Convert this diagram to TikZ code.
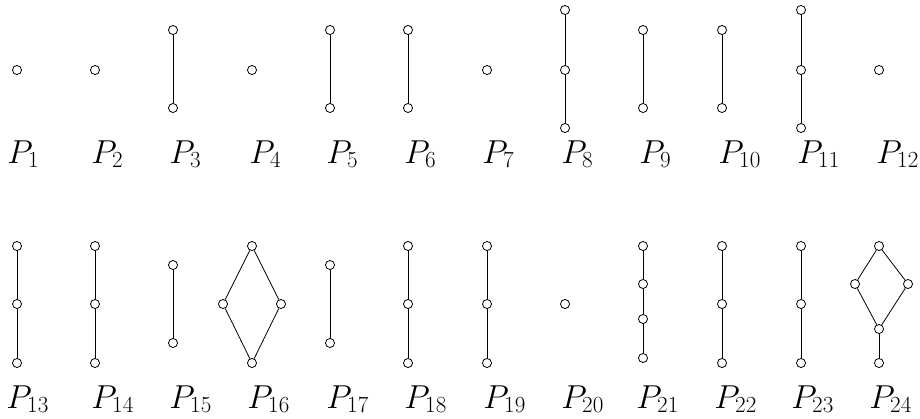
\documentclass[tikz,border=0pt]{standalone}
\usepackage{tikz}
\usetikzlibrary{positioning}

\begin{document}
\begin{tikzpicture}[
    x=0.75pt, y=-0.75pt,
    elt/.style={circle, draw=black, fill=white, inner sep=0pt,
                minimum size=6.8pt, line width=0.6pt},
    edge/.style={line width=0.6pt},
    lbl/.style={anchor=base west, inner sep=0pt, font=\fontsize{23}{27}\selectfont}
]
    \useasboundingbox (0,0) rectangle (920,418);

    % first row
    \node[elt] (a1) at (17,70) {};
    \node[elt] (a2) at (95,70) {};
    \node[elt] (a3t) at (173,30) {};
    \node[elt] (a3b) at (173,108) {};
    \node[elt] (a4) at (252,70) {};
    \node[elt] (a5t) at (330,30) {};
    \node[elt] (a5b) at (330,108) {};
    \node[elt] (a6t) at (408,30) {};
    \node[elt] (a6b) at (408,108) {};
    \node[elt] (a7) at (487,70) {};
    \node[elt] (a8t) at (565,10) {};
    \node[elt] (a8m) at (565,70) {};
    \node[elt] (a8b) at (565,128) {};
    \node[elt] (a9t) at (643,30) {};
    \node[elt] (a9b) at (643,108) {};
    \node[elt] (a10t) at (722,30) {};
    \node[elt] (a10b) at (722,108) {};
    \node[elt] (a11t) at (801,10) {};
    \node[elt] (a11m) at (801,70) {};
    \node[elt] (a11b) at (801,128) {};
    \node[elt] (a12) at (879,70) {};

    \draw[edge] (a3t) -- (a3b);
    \draw[edge] (a5t) -- (a5b);
    \draw[edge] (a6t) -- (a6b);
    \draw[edge] (a8t) -- (a8m) -- (a8b);
    \draw[edge] (a9t) -- (a9b);
    \draw[edge] (a10t) -- (a10b);
    \draw[edge] (a11t) -- (a11m) -- (a11b);

    \node[lbl] (l1) at (7,163) {$P_1$};
    \node[lbl] (l2) at (91,163) {$P_2$};
    \node[lbl] (l3) at (169,163) {$P_3$};
    \node[lbl] (l4) at (249,163) {$P_4$};
    \node[lbl] (l5) at (326,163) {$P_5$};
    \node[lbl] (l6) at (404,163) {$P_6$};
    \node[lbl] (l7) at (482,163) {$P_7$};
    \node[lbl] (l8) at (561,163) {$P_8$};
    \node[lbl] (l9) at (639,163) {$P_9$};
    \node[lbl] (l10) at (718,163) {$P_{10}$};
    \node[lbl] (l11) at (797,163) {$P_{11}$};
    \node[lbl] (l12) at (876,163) {$P_{12}$};

    % second row
    \node[elt] (b13t) at (17,246) {};
    \node[elt] (b13m) at (17,304) {};
    \node[elt] (b13b) at (17,363) {};
    \node[elt] (b14t) at (95,246) {};
    \node[elt] (b14m) at (95,304) {};
    \node[elt] (b14b) at (95,363) {};
    \node[elt] (b15t) at (173,265) {};
    \node[elt] (b15b) at (173,343) {};
    \node[elt] (b16t) at (252,246) {};
    \node[elt] (b16l) at (223,304) {};
    \node[elt] (b16r) at (281,304) {};
    \node[elt] (b16b) at (252,363) {};
    \node[elt] (b17t) at (330,265) {};
    \node[elt] (b17b) at (330,343) {};
    \node[elt] (b18t) at (408,246) {};
    \node[elt] (b18m) at (408,304) {};
    \node[elt] (b18b) at (408,363) {};
    \node[elt] (b19t) at (487,246) {};
    \node[elt] (b19m) at (487,304) {};
    \node[elt] (b19b) at (487,363) {};
    \node[elt] (b20) at (565,304) {};
    \node[elt] (b21a) at (643,246) {};
    \node[elt] (b21b) at (643,284) {};
    \node[elt] (b21c) at (643,319) {};
    \node[elt] (b21d) at (643,358) {};
    \node[elt] (b22t) at (722,246) {};
    \node[elt] (b22m) at (722,304) {};
    \node[elt] (b22b) at (722,363) {};
    \node[elt] (b23t) at (801,246) {};
    \node[elt] (b23m) at (801,304) {};
    \node[elt] (b23b) at (801,363) {};
    \node[elt] (b24t) at (879,246) {};
    \node[elt] (b24l) at (855,284) {};
    \node[elt] (b24r) at (908,284) {};
    \node[elt] (b24m) at (879,329) {};
    \node[elt] (b24b) at (879,363) {};

    \draw[edge] (b13t) -- (b13m) -- (b13b);
    \draw[edge] (b14t) -- (b14m) -- (b14b);
    \draw[edge] (b15t) -- (b15b);
    \draw[edge] (b16t) -- (b16l) -- (b16b) -- (b16r) -- (b16t);
    \draw[edge] (b17t) -- (b17b);
    \draw[edge] (b18t) -- (b18m) -- (b18b);
    \draw[edge] (b19t) -- (b19m) -- (b19b);
    \draw[edge] (b21a) -- (b21b) -- (b21c) -- (b21d);
    \draw[edge] (b22t) -- (b22m) -- (b22b);
    \draw[edge] (b23t) -- (b23m) -- (b23b);
    \draw[edge] (b24t) -- (b24l) -- (b24m) -- (b24r) -- (b24t);
    \draw[edge] (b24m) -- (b24b);

    \node[lbl] (l13) at (6,408) {$P_{13}$};
    \node[lbl] (l14) at (91,408) {$P_{14}$};
    \node[lbl] (l15) at (169,408) {$P_{15}$};
    \node[lbl] (l16) at (247,408) {$P_{16}$};
    \node[lbl] (l17) at (326,408) {$P_{17}$};
    \node[lbl] (l18) at (404,408) {$P_{18}$};
    \node[lbl] (l19) at (483,408) {$P_{19}$};
    \node[lbl] (l20) at (561,408) {$P_{20}$};
    \node[lbl] (l21) at (636,408) {$P_{21}$};
    \node[lbl] (l22) at (714,408) {$P_{22}$};
    \node[lbl] (l23) at (791,408) {$P_{23}$};
    \node[lbl] (l24) at (869,408) {$P_{24}$};
\end{tikzpicture}
\end{document}
